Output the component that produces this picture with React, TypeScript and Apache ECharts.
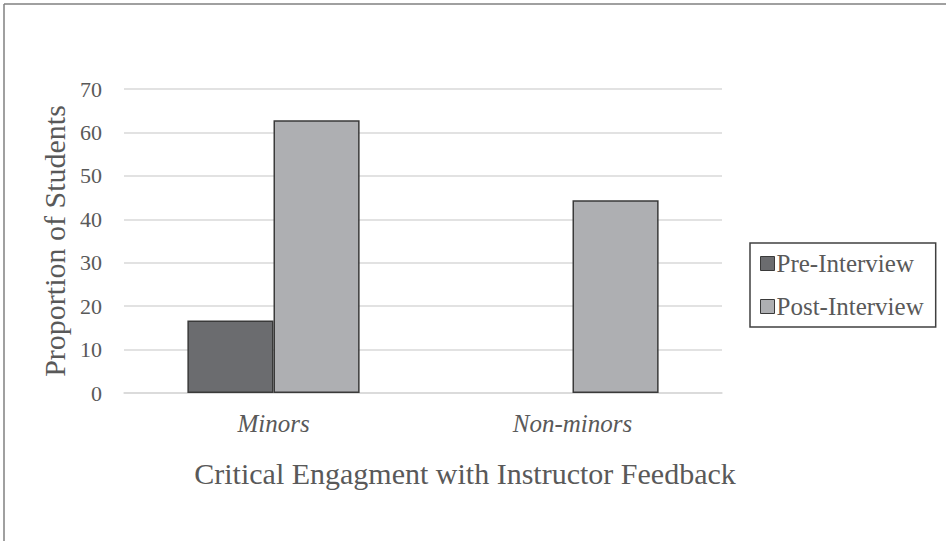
import React, { useEffect, useRef } from "react";
import * as echarts from "echarts";

const categories = ["Minors", "Non-minors"];
const preInterview = [16.7, 0];
const postInterview = [62.8, 44.4];
const seriesNames = ["Pre-Interview", "Post-Interview"];
const yAxisTitle = "Proportion of Students";
const xAxisTitle = "Critical Engagment with Instructor Feedback";

const FONT = "'Liberation Serif', 'DejaVu Serif', serif";
const TEXT = "#595959";

const toData = (arr: number[]) =>
  arr.map((v) => (v === 0 ? { value: v, itemStyle: { borderWidth: 0 } } : v));

export default function App() {
  const ref = useRef<HTMLDivElement>(null);
  useEffect(() => {
    document.body.style.margin = "0";
    const chart = echarts.init(ref.current!, null, { renderer: "svg" });
    chart.setOption({
      animation: false,
      backgroundColor: "#ffffff",
      textStyle: { fontFamily: FONT },
      grid: { left: 124, right: 224, top: 89, bottom: 148 },
      graphic: [
        { type: "line", shape: { x1: 4, y1: 4, x2: 946, y2: 4 }, style: { stroke: "#808080", lineWidth: 1.5 } },
        { type: "line", shape: { x1: 4, y1: 4, x2: 4, y2: 541 }, style: { stroke: "#808080", lineWidth: 1.5 } },
        {
          type: "text",
          x: 465,
          y: 473,
          style: {
            text: xAxisTitle,
            font: `30px ${FONT}`,
            fill: TEXT,
            textAlign: "center",
            textVerticalAlign: "middle",
          },
        },
      ],
      legend: {
        orient: "vertical",
        left: 750,
        top: 243,
        padding: [8, 12, 8, 10],
        itemWidth: 14,
        itemHeight: 14,
        itemGap: 18,
        borderColor: "#404040",
        borderWidth: 1.5,
        icon: "rect",
        itemStyle: { borderColor: "#3a3a3a", borderWidth: 1 },
        textStyle: { fontFamily: FONT, fontSize: 25, color: TEXT, padding: [0, 0, 0, -3] },
        data: seriesNames,
      },
      xAxis: {
        type: "category",
        data: categories,
        axisTick: { show: false },
        axisLine: { lineStyle: { color: "#d9d9d9", width: 1.5 } },
        axisLabel: { fontFamily: FONT, fontSize: 25, fontStyle: "italic", color: TEXT, margin: 18 },
      },
      yAxis: {
        type: "value",
        min: 0,
        max: 70,
        interval: 10,
        axisLine: { show: false },
        axisTick: { show: false },
        splitLine: { lineStyle: { color: "#d9d9d9", width: 1.5 } },
        axisLabel: { fontFamily: FONT, fontSize: 22, color: TEXT, margin: 22 },
        name: yAxisTitle,
        nameLocation: "middle",
        nameGap: 53,
        nameTextStyle: { fontFamily: FONT, fontSize: 30, color: TEXT },
      },
      series: [
        {
          name: seriesNames[0],
          type: "bar",
          data: toData(preInterview),
          barWidth: "28.8%",
          barGap: "0%",
          itemStyle: { color: "#6b6c6f", borderColor: "#3a3a3a", borderWidth: 1.5 },
        },
        {
          name: seriesNames[1],
          type: "bar",
          data: toData(postInterview),
          barWidth: "28.8%",
          barGap: "0%",
          itemStyle: { color: "#aeafb2", borderColor: "#3a3a3a", borderWidth: 1.5 },
        },
      ],
    });
    return () => chart.dispose();
  }, []);
  return <div ref={ref} style={{ width: 946, height: 541 }} />;
}
